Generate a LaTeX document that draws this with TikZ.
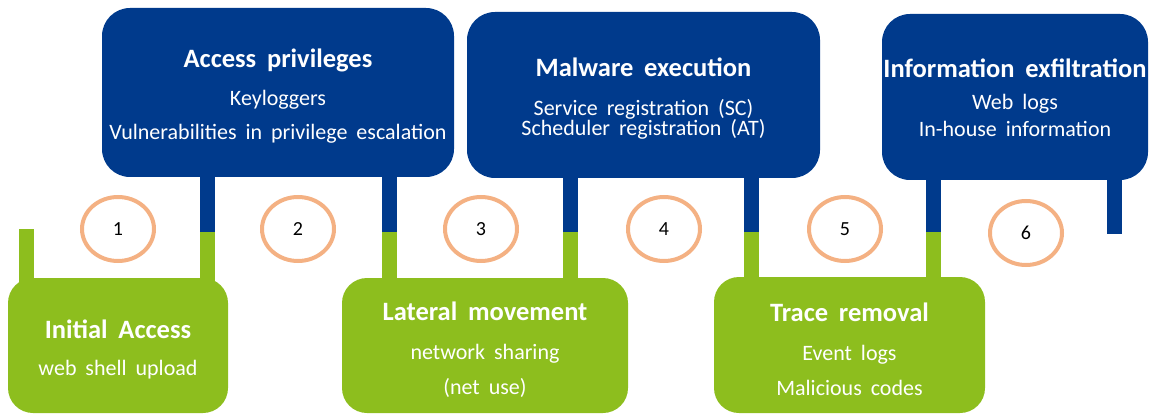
\documentclass[tikz,border=0pt]{standalone}
\usepackage{fontspec}
\setmainfont{Carlito}[WordSpace=1.8]
\usetikzlibrary{shapes.geometric,backgrounds}

\definecolor{stageblue}{RGB}{0,58,140}
\definecolor{stagegreen}{RGB}{141,190,30}
\definecolor{ringorange}{RGB}{244,177,131}

% bold heading; the strut pushes the text block down a little
\newcommand{\stagehead}[2][20pt]{{\fontsize{26.5}{30}\selectfont\bfseries\rule{0pt}{#1}#2}}

\begin{document}
\begin{tikzpicture}[x=1pt,y=-1pt]
	\tikzstyle{upper} = [rectangle, rounded corners=28pt, fill=stageblue, text=white, align=center, inner sep=0pt, font=\fontsize{22}{26}\selectfont]
	\tikzstyle{lower} = [rectangle, rounded corners=25pt, fill=stagegreen, text=white, align=center, inner sep=0pt, font=\fontsize{22}{26}\selectfont]
	\tikzstyle{ring} = [ellipse, draw=ringorange, line width=4pt, minimum width=72pt, minimum height=64pt, font=\fontsize{20}{20}\selectfont]
	\tikzstyle{bluebar} = [draw=stageblue, line width=15pt]
	\tikzstyle{greenbar} = [draw=stagegreen, line width=15pt]
	\useasboundingbox (0,0) rectangle (1150,414);

	% stages above the line
	\node[upper, minimum width=352pt, minimum height=169pt] (priv) at (278,92.5)
		{\stagehead[26pt]{Access privileges}\\[12pt] Keyloggers\\[8pt] Vulnerabilities in privilege escalation};
	\node[upper, minimum width=353pt, minimum height=166pt] (exec) at (643.5,95)
		{\stagehead[26pt]{Malware execution}\\[13pt] Service registration (SC)\\[-6pt] Scheduler registration (AT)};
	\node[upper, minimum width=266pt, minimum height=166pt] (exfil) at (1015,97)
		{\stagehead[21pt]{Information exfiltration}\\[6pt] Web logs\\[1pt] In-house information};

	% stages below the line
	\node[lower, minimum width=220pt, minimum height=135pt] (initial) at (118,345.5)
		{\stagehead[27pt]{Initial Access}\\[11pt] web shell upload};
	\node[lower, minimum width=286pt, minimum height=135pt] (lateral) at (485,345.5)
		{\stagehead[28pt]{Lateral movement}\\[13pt] network sharing\\[9pt] (net use)};
	\node[lower, minimum width=271pt, minimum height=136pt] (trace) at (849.5,345)
		{\stagehead[28pt]{Trace removal}\\[13pt] Event logs\\[9pt] Malicious codes};

	% step numbers
	\node[ring] (n1) at (118,229) {1};
	\node[ring] (n2) at (298,229) {2};
	\node[ring] (n3) at (481,229) {3};
	\node[ring] (n4) at (664,229) {4};
	\node[ring] (n5) at (845,229) {5};
	\node[ring] (n6) at (1026,233) {6};

	% where blue meets green
	\coordinate (j0) at (26,229);
	\coordinate (j1) at (207.5,232);
	\coordinate (j2) at (389,232);
	\coordinate (j3) at (570,232);
	\coordinate (j4) at (751.5,232);
	\coordinate (j5) at (933.5,232);
	\coordinate (j6) at (1114,234);

	\begin{scope}[on background layer]
		\draw[greenbar] (j0) -- (j0 |- initial.center);
		\draw[bluebar] (j1 |- priv.center) -- (j1);
		\draw[greenbar] (j1) -- (j1 |- initial.center);
		\draw[bluebar] (j2 |- priv.center) -- (j2);
		\draw[greenbar] (j2) -- (j2 |- lateral.center);
		\draw[bluebar] (j3 |- exec.center) -- (j3);
		\draw[greenbar] (j3) -- (j3 |- lateral.center);
		\draw[bluebar] (j4 |- exec.center) -- (j4);
		\draw[greenbar] (j4) -- (j4 |- trace.center);
		\draw[bluebar] (j5 |- exfil.center) -- (j5);
		\draw[greenbar] (j5) -- (j5 |- trace.center);
		\draw[bluebar] (j6 |- exfil.center) -- (j6);
	\end{scope}
\end{tikzpicture}
\end{document}
